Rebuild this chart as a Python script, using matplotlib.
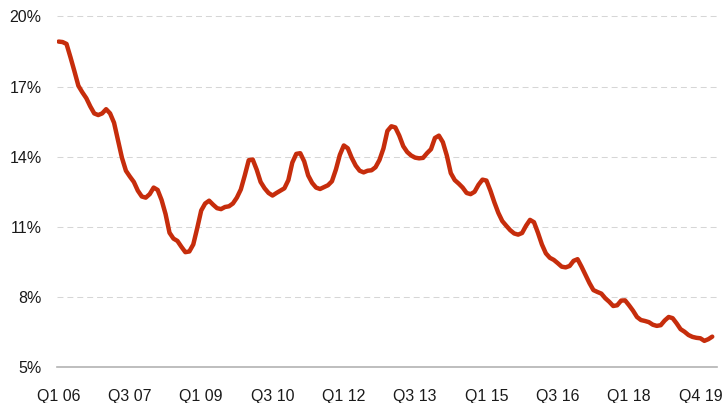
import matplotlib.pyplot as plt

# monthly series (percent)
values = [
    18.92, 18.90, 18.82, 18.25, 17.65, 17.03, 16.75, 16.50, 16.15, 15.85,
    15.78, 15.85, 16.03, 15.85, 15.45, 14.70, 13.95, 13.40, 13.15, 12.92,
    12.55, 12.30, 12.25, 12.40, 12.68, 12.58, 12.15, 11.55, 10.75, 10.50,
    10.40, 10.15, 9.92, 9.95, 10.25, 10.95, 11.70, 12.00, 12.12, 11.95,
    11.80, 11.76, 11.85, 11.88, 12.00, 12.25, 12.60, 13.20, 13.85, 13.88,
    13.45, 12.92, 12.65, 12.45, 12.34, 12.45, 12.55, 12.65, 13.00, 13.75,
    14.12, 14.15, 13.80, 13.20, 12.88, 12.68, 12.62, 12.70, 12.78, 12.95,
    13.45, 14.08, 14.48, 14.36, 13.95, 13.62, 13.40, 13.33, 13.40, 13.42,
    13.55, 13.86, 14.35, 15.10, 15.30, 15.25, 14.90, 14.45, 14.20, 14.05,
    13.96, 13.93, 13.95, 14.15, 14.32, 14.80, 14.90, 14.62, 14.05, 13.30,
    13.00, 12.85, 12.68, 12.45, 12.40, 12.50, 12.80, 13.02, 12.98, 12.55,
    12.05, 11.60, 11.25, 11.05, 10.86, 10.72, 10.67, 10.74, 11.05, 11.30,
    11.20, 10.75, 10.25, 9.87, 9.68, 9.59, 9.45, 9.30, 9.27, 9.33,
    9.55, 9.62, 9.30, 8.95, 8.60, 8.30, 8.22, 8.15, 7.95, 7.80,
    7.62, 7.65, 7.85, 7.86, 7.65, 7.42, 7.15, 7.02, 6.98, 6.93,
    6.82, 6.77, 6.80, 7.00, 7.15, 7.10, 6.88, 6.63, 6.52, 6.38,
    6.30, 6.26, 6.24, 6.13, 6.20, 6.31,
]
x_labels = ["Q1 06", "Q3 07", "Q1 09", "Q3 10", "Q1 12", "Q3 13",
            "Q1 15", "Q3 16", "Q1 18", "Q4 19"]
y_ticks = [5, 8, 11, 14, 17, 20]

plt.rcParams['font.family'] = ['Liberation Sans', 'DejaVu Sans']

fig = plt.figure(figsize=(7.24, 4.03), dpi=100)
ax = fig.add_axes([57 / 724, 35.7 / 403, 660 / 724, 351 / 403])

x = list(range(len(values)))
ax.plot(x, values, color='#c62d0c', lw=3.2, solid_capstyle='round',
        solid_joinstyle='round', zorder=3)

ax.set_xlim(-0.4, 166.2)
ax.set_ylim(5, 20)

ax.set_xticks([i * 18 for i in range(len(x_labels))])
ax.set_xticklabels(x_labels)
ax.set_yticks(y_ticks)
ax.set_yticklabels([f"{t}%" for t in y_ticks])
ax.tick_params(axis='both', length=0, labelsize=11.5, colors='#1a1a1a')
ax.tick_params(axis='y', pad=11)
ax.tick_params(axis='x', pad=15.5)

for t in y_ticks[1:]:
    ax.axhline(t, color='#d6d6d6', lw=0.75, linestyle=(0, (5.7, 3.8)),
               zorder=1, clip_on=False)
ax.axhline(5, color='#b3b3b3', lw=1.2, zorder=2, clip_on=False)

for s in ax.spines.values():
    s.set_visible(False)

fig.savefig('out.png', dpi=100)
